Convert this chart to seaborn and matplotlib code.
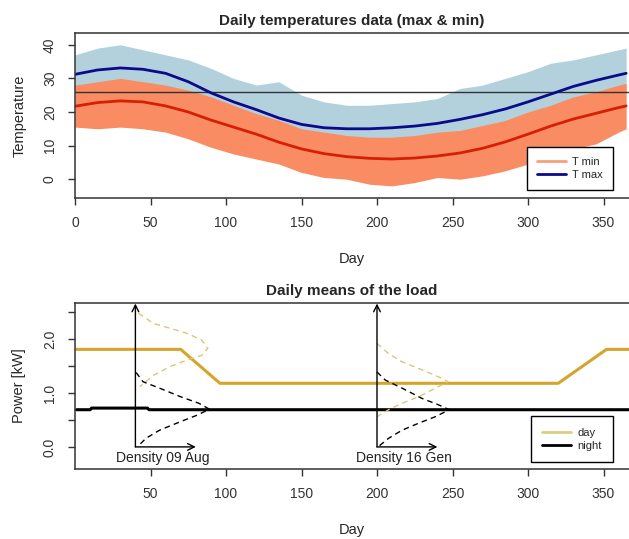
import numpy as np
import seaborn as sns
import matplotlib.pyplot as plt
from matplotlib.lines import Line2D

# ---- temperature panel data ----
days_t = [0, 15, 30, 45, 60, 75, 90, 105, 120, 135, 150, 165, 180,
          195, 210, 225, 240, 255, 270, 285, 300, 315, 330, 345, 360, 365]
t_max = [31.2, 32.5, 33.1, 32.7, 31.5, 29.0, 25.7, 23.0, 20.7, 18.2, 16.3, 15.3, 15.0,
         15.0, 15.3, 15.8, 16.6, 17.8, 19.2, 20.9, 23.0, 25.3, 27.6, 29.4, 31.0, 31.5]
t_min = [21.7, 22.8, 23.3, 23.0, 21.8, 20.0, 17.6, 15.5, 13.4, 11.0, 9.0, 7.6, 6.7,
         6.2, 6.0, 6.3, 6.9, 7.8, 9.2, 11.1, 13.4, 15.8, 17.9, 19.6, 21.3, 21.8]
# spread of the daily traces (upper / lower envelope)
tmax_hi = [37, 39, 40, 38.5, 37, 35.5, 33, 30, 28, 29, 25, 23, 22,
           22, 22.5, 23, 24, 27, 28, 30, 32, 34.5, 35.5, 37, 38.5, 39]
tmax_lo = [25.5, 27, 27.5, 27, 26, 23.5, 20, 17.5, 15, 13, 11, 10, 9.5,
           9.5, 10, 10.5, 11, 12, 13.5, 15, 17, 19.5, 22, 24, 25.5, 26]
tmin_hi = [28, 29, 30, 29, 28, 26.5, 24.5, 22, 19.5, 17.5, 15, 14, 13,
           12.5, 12.5, 13, 14, 14.5, 16, 17.5, 20, 22, 24.5, 26, 28, 28.5]
tmin_lo = [15.5, 15, 15.5, 15, 14, 12, 9.5, 7.5, 6, 4.5, 2, 0.5, 0,
           -1.5, -2, -1, 0.5, 0, 1, 2.5, 4.5, 6.5, 9, 10.5, 14, 15]
t_ref = 26

# ---- load panel data ----
days_day = [1, 70, 96, 320, 352, 367]
load_day = [1.81, 1.81, 1.18, 1.18, 1.81, 1.81]
days_night = [1, 10, 11, 48, 49, 367]
load_night = [0.69, 0.69, 0.72, 0.72, 0.69, 0.69]

# density curves: offset (days) from the arrow, power value
dens_aug_day_off = [2, 12, 23, 34, 44, 48, 44, 34, 23, 12, 3]
dens_aug_day_pow = [2.48, 2.29, 2.20, 2.11, 1.98, 1.83, 1.70, 1.61, 1.49, 1.33, 1.12]
dens_aug_night_off = [0.5, 5, 16, 30, 42, 49, 41, 30, 16, 7, 2]
dens_aug_night_pow = [1.38, 1.21, 1.09, 0.93, 0.81, 0.70, 0.59, 0.47, 0.31, 0.16, 0.02]
dens_gen_day_off = [0, 7.7, 16.6, 29.8, 40.8, 47, 38.6, 27.6, 16.6, 7.7, 0]
dens_gen_day_pow = [1.92, 1.73, 1.58, 1.43, 1.30, 1.21, 1.09, 0.93, 0.81, 0.69, 0.56]
dens_gen_night_off = [0, 5.5, 16.6, 29.8, 40.8, 47.9, 38.6, 27.6, 16.6, 7.7, 1.1]
dens_gen_night_pow = [1.39, 1.24, 1.09, 0.90, 0.78, 0.69, 0.56, 0.44, 0.31, 0.16, 0.01]
dens_days = [40, 200]
dens_labels = ['Density 09 Aug', 'Density 16 Gen']

sns.set_theme(style='ticks')
plt.rcParams['font.family'] = ['Liberation Sans', 'DejaVu Sans']

fig = plt.figure(figsize=(6.29, 5.39), dpi=100)
ax1 = fig.add_axes([75 / 629, 1 - 198 / 539, 1 - 75 / 629, 165 / 539])
ax2 = fig.add_axes([75 / 629, 1 - 469 / 539, 1 - 75 / 629, 166 / 539])

BLUE_BAND = '#b3d1dd'
ORANGE_BAND = '#f98c62'
LEG_KW = dict(loc='lower right', fontsize=8, frameon=True, fancybox=False,
              edgecolor='black', framealpha=1, handlelength=2.6, handletextpad=0.6,
              borderaxespad=0)

# top panel
ax1.fill_between(days_t, tmax_lo, tmax_hi, color=BLUE_BAND, lw=0)
ax1.fill_between(days_t, tmin_lo, tmin_hi, color=ORANGE_BAND, lw=0)
ax1.axhline(t_ref, color='#333333', lw=1)
sns.lineplot(x=days_t, y=t_min, ax=ax1, color='#d81e05', lw=2, legend=False)
sns.lineplot(x=days_t, y=t_max, ax=ax1, color='#0a0a8c', lw=2, legend=False)
ax1.set_xlim(0, 554 / 1.51)
ax1.set_ylim(-5.6, 43.5)
ax1.set_xticks([0, 50, 100, 150, 200, 250, 300, 350])
ax1.set_yticks([0, 10, 20, 30, 40])
ax1.set_title('Daily temperatures data (max & min)', fontsize=11, fontweight='bold', pad=6)
ax1.set_xlabel('Day', fontsize=10.5, labelpad=16)
ax1.set_ylabel('Temperature', fontsize=10.5, labelpad=12)
h1 = [Line2D([], [], color='#f4a07c', lw=2), Line2D([], [], color='#0a0a8c', lw=2)]
leg1 = ax1.legend(h1, ['T min', 'T max'], bbox_to_anchor=(0.971, 0.048),
                  borderpad=0.9, labelspacing=0.25, **LEG_KW)
leg1.get_frame().set_linewidth(1)

# bottom panel
sns.lineplot(x=days_day, y=load_day, ax=ax2, color='#d4a52a', lw=2.2, legend=False)
sns.lineplot(x=days_night, y=load_night, ax=ax2, color='black', lw=2.2, legend=False)
dens_sets = [(dens_aug_day_off, dens_aug_day_pow, dens_aug_night_off, dens_aug_night_pow),
             (dens_gen_day_off, dens_gen_day_pow, dens_gen_night_off, dens_gen_night_pow)]
for d0, lab, (doff, dpow, noff, npow) in zip(dens_days, dens_labels, dens_sets):
    ax2.plot(np.array(doff) + d0, dpow, color='#d8c878', lw=1, ls=(0, (4, 3)))
    ax2.plot(np.array(noff) + d0, npow, color='black', lw=1, ls=(0, (4, 3)))
    ax2.annotate('', xy=(d0, 2.66), xytext=(d0, 0), annotation_clip=False,
                 arrowprops=dict(arrowstyle='->', color='black', lw=1, shrinkA=0, shrinkB=0))
    ax2.annotate('', xy=(d0 + 40, 0), xytext=(d0, 0), annotation_clip=False,
                 arrowprops=dict(arrowstyle='->', color='black', lw=1, shrinkA=0, shrinkB=0))
    ax2.text(d0 + 18, -0.2, lab, ha='center', va='center', fontsize=10, color='#222222')
ax2.set_xlim(0, 554 / 1.51)
ax2.set_ylim(-0.41, 2.67)
ax2.set_xticks([50, 100, 150, 200, 250, 300, 350])
ax2.set_yticks([0, 0.5, 1.0, 1.5, 2.0, 2.5])
ax2.set_yticklabels(['0.0', '', '1.0', '', '2.0', ''])
ax2.set_title('Daily means of the load', fontsize=11, fontweight='bold', pad=6)
ax2.set_xlabel('Day', fontsize=10.5, labelpad=16)
ax2.set_ylabel('Power [kW]', fontsize=10.5, labelpad=12)
h2 = [Line2D([], [], color='#d8d080', lw=2), Line2D([], [], color='black', lw=2)]
leg2 = ax2.legend(h2, ['day', 'night'], bbox_to_anchor=(0.971, 0.042),
                  borderpad=1.0, labelspacing=0.3, **LEG_KW)
leg2.get_frame().set_linewidth(1)

for ax in (ax1, ax2):
    ax.spines['right'].set_visible(False)
    for s in ('left', 'top', 'bottom'):
        ax.spines[s].set_color('#333333')
        ax.spines[s].set_linewidth(1.1)
    ax.tick_params(axis='both', direction='out', length=5, width=1, color='#333333',
                   labelsize=10, labelcolor='#333333', pad=8)
    for t in ax.get_yticklabels():
        t.set_rotation(90)
        t.set_va('center')

fig.savefig('out.png', dpi=100)
